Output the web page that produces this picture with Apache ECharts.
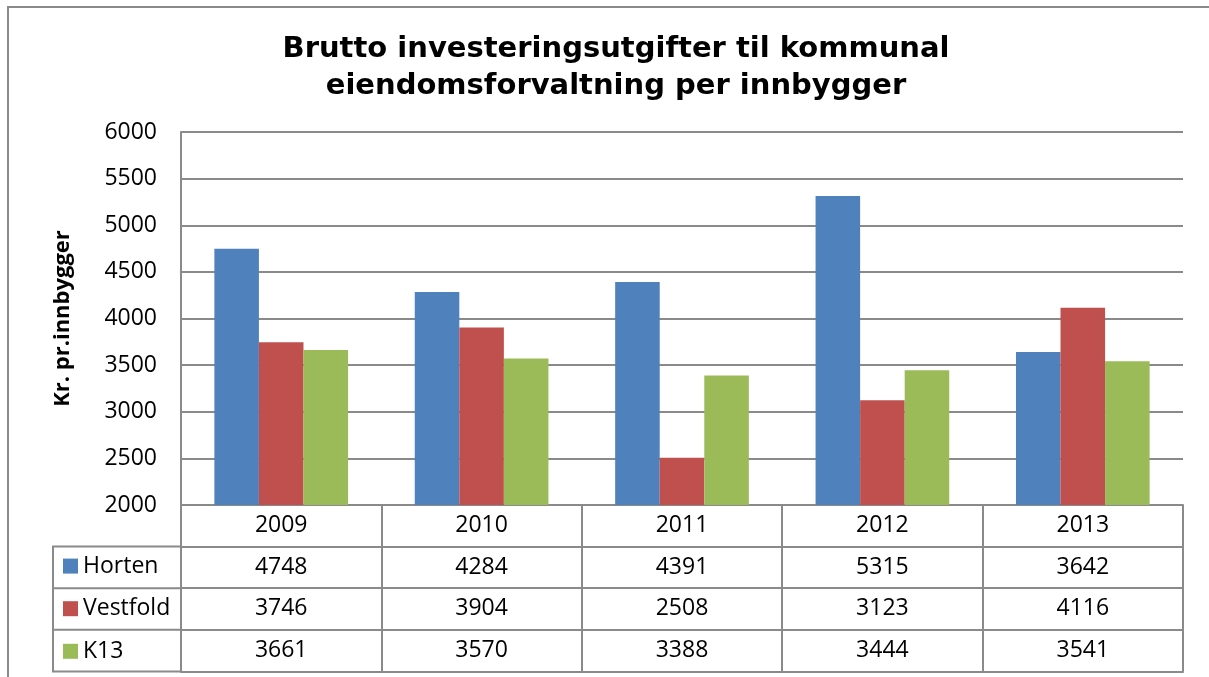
<!DOCTYPE html>
<html>
<head>
<meta charset="utf-8">
<script src="https://cdn.jsdelivr.net/npm/echarts@6/dist/echarts.min.js"></script>
<style>
  html, body { margin: 0; padding: 0; background: #fff; }
  #chart { width: 1209px; height: 677px; }
</style>
</head>
<body>
<div id="chart"></div>
<script>
// data
const years = ["2009", "2010", "2011", "2012", "2013"];
const horten = [4748, 4284, 4391, 5315, 3642];
const vestfold = [3746, 3904, 2508, 3123, 4116];
const k13 = [3661, 3570, 3388, 3444, 3541];
const seriesNames = ["Horten", "Vestfold", "K13"];
const seriesColors = ["#4F81BD", "#C0504D", "#9BBB59"];
const yMin = 2000, yMax = 6000, yStep = 500;

// layout
const GRID_LEFT = 181, GRID_RIGHT = 1183, GRID_TOP = 132, GRID_BOTTOM = 505;
const ROW_H = 41.6;
const LEGEND_COL_LEFT = 53;
const lineColor = "#8a8a8a";
const font = "'Open Sans', 'Noto Sans', sans-serif";

const chart = echarts.init(document.getElementById("chart"));
const seriesValues = [horten, vestfold, k13];

// table rows = extra x axes offset below the plot
const xAxes = [
  {
    type: "category",
    data: years,
    gridIndex: 0,
    position: "bottom",
    axisLine: { lineStyle: { color: lineColor, width: 2 } },
    axisTick: { show: true, length: ROW_H * 4, lineStyle: { color: lineColor, width: 2 } },
    axisLabel: { margin: 9, fontSize: 23, color: "#000", fontFamily: font },
  },
];
seriesValues.forEach((vals, i) => {
  xAxes.push({
    type: "category",
    data: years,
    gridIndex: 0,
    position: "bottom",
    offset: ROW_H * (i + 1),
    axisLine: { lineStyle: { color: lineColor, width: 2 } },
    axisTick: { show: false },
    axisLabel: {
      margin: 9,
      fontSize: 23,
      color: "#000",
      fontFamily: font,
      formatter: (v, idx) => String(vals[idx]),
    },
  });
});
xAxes.push({
  type: "category",
  data: years,
  gridIndex: 0,
  position: "bottom",
  offset: ROW_H * 4,
  axisLine: { lineStyle: { color: lineColor, width: 2 } },
  axisTick: { show: false },
  axisLabel: { show: false },
});

const tableTop = GRID_BOTTOM + ROW_H;
const tableBottom = GRID_BOTTOM + ROW_H * 4;

const option = {
  animation: false,
  title: {
    text: "Brutto investeringsutgifter til kommunal\neiendomsforvaltning per innbygger",
    left: 611,
    top: 26,
    textAlign: "center",
    textStyle: {
      fontFamily: "'DejaVu Sans', Verdana, sans-serif",
      fontWeight: "bold",
      fontSize: 29,
      lineHeight: 37,
      color: "#000",
    },
  },
  legend: {
    data: seriesNames,
    orient: "vertical",
    left: 58,
    top: tableTop + 3,
    icon: "rect",
    itemWidth: 15,
    itemHeight: 15,
    itemGap: ROW_H - 22,
    selectedMode: false,
    textStyle: { fontSize: 23, color: "#000", fontFamily: font, padding: [0, 0, 0, 0] },
  },
  grid: {
    left: GRID_LEFT,
    right: 1209 - GRID_RIGHT,
    top: GRID_TOP,
    bottom: 677 - GRID_BOTTOM,
  },
  xAxis: xAxes,
  yAxis: {
    type: "value",
    min: yMin,
    max: yMax,
    interval: yStep,
    name: "Kr. pr.innbygger",
    nameLocation: "middle",
    nameGap: 107,
    nameTextStyle: { fontSize: 22, fontWeight: "bold", color: "#000", fontFamily: font },
    axisLine: { show: true, lineStyle: { color: lineColor, width: 2 } },
    axisTick: { show: false },
    axisLabel: { margin: 24, fontSize: 23, color: "#000", fontFamily: font, formatter: (v) => String(v) },
    splitLine: { lineStyle: { color: lineColor, width: 2 } },
  },
  series: seriesValues.map((vals, i) => ({
    name: seriesNames[i],
    type: "bar",
    xAxisIndex: 0,
    data: vals,
    barGap: "0%",
    barCategoryGap: "33.3%",
    itemStyle: { color: seriesColors[i] },
  })),
  graphic: [
    {
      type: "rect",
      shape: { x: 8, y: 7, width: 1400, height: 900 },
      style: { fill: null, stroke: lineColor, lineWidth: 2 },
      silent: true,
    },
    {
      type: "polyline",
      shape: {
        points: [
          [GRID_LEFT, tableTop],
          [LEGEND_COL_LEFT, tableTop],
          [LEGEND_COL_LEFT, tableBottom],
          [GRID_LEFT, tableBottom],
        ],
      },
      style: { fill: null, stroke: lineColor, lineWidth: 2 },
      silent: true,
    },
    ...[2, 3].map((k) => ({
      type: "line",
      shape: { x1: LEGEND_COL_LEFT, y1: GRID_BOTTOM + ROW_H * k, x2: GRID_LEFT, y2: GRID_BOTTOM + ROW_H * k },
      style: { stroke: lineColor, lineWidth: 2 },
      silent: true,
    })),
  ],
};

chart.setOption(option);
window.addEventListener("resize", () => chart.resize());
</script>
</body>
</html>
